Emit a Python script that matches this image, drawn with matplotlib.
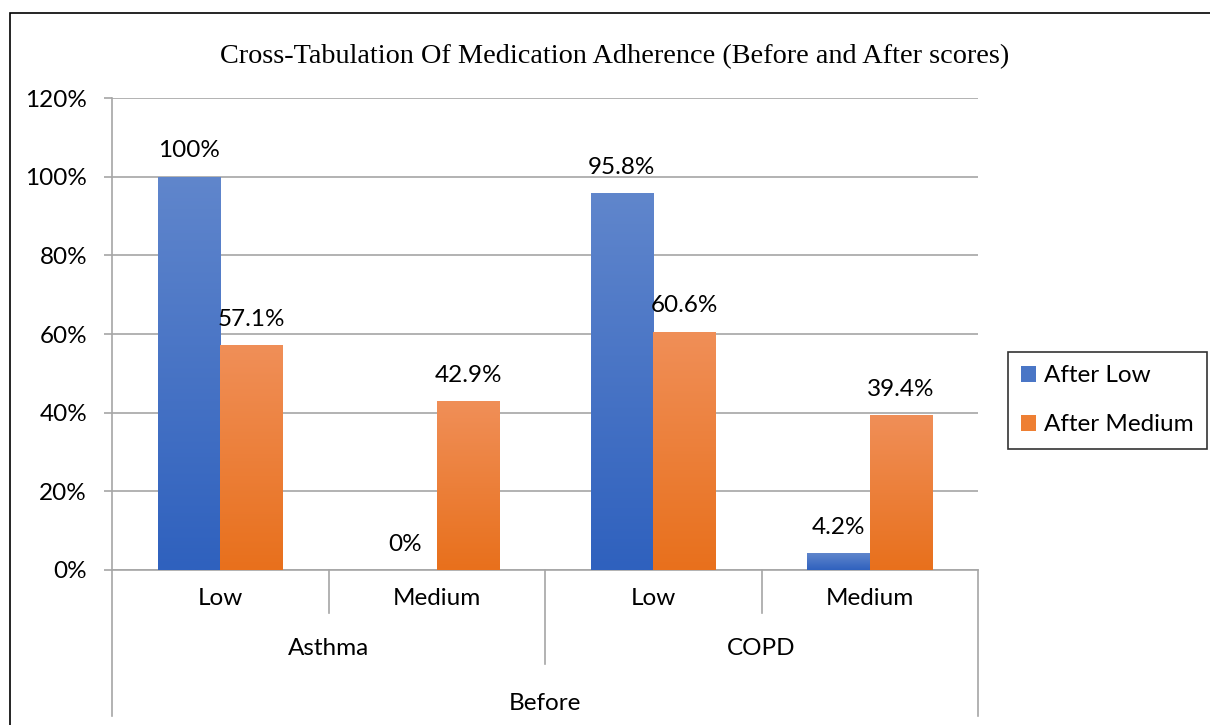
import numpy as np
import matplotlib.pyplot as plt
from matplotlib.colors import LinearSegmentedColormap
from matplotlib.patches import Rectangle, Patch
from matplotlib.transforms import blended_transform_factory

# data
diseases = ["Asthma", "COPD"]
before_levels = ["Low", "Medium", "Low", "Medium"]
after_low = [1.00, 0.0, 0.958, 0.042]
after_medium = [0.571, 0.429, 0.606, 0.394]
low_labels = ["100%", "0%", "95.8%", "4.2%"]
medium_labels = ["57.1%", "42.9%", "60.6%", "39.4%"]
y_ticks = [0, 0.2, 0.4, 0.6, 0.8, 1.0, 1.2]

label_font = "Lato"
fs = 17.5
blue_grad = LinearSegmentedColormap.from_list("b", ["#2F61BE", "#6086CC"])
orange_grad = LinearSegmentedColormap.from_list("o", ["#E8701C", "#F08F58"])
grid_gray = "#A6A6A6"

fig = plt.figure(figsize=(12.1, 7.25), dpi=100)
ax = fig.add_axes([0.0926, 0.2138, 0.7157, 0.651])

x = np.arange(len(before_levels))
w = 0.29
bars_low = ax.bar(x - w / 2, after_low, w, color="#4472C4", zorder=3)
bars_med = ax.bar(x + w / 2, after_medium, w, color="#ED7D31", zorder=3)

# vertical gradient fill clipped to each bar
grad = np.linspace(0, 1, 256).reshape(-1, 1)
for bars, cmap in [(bars_low, blue_grad), (bars_med, orange_grad)]:
    for b in bars:
        if b.get_height() <= 0:
            continue
        x0, y0 = b.get_x(), b.get_y()
        im = ax.imshow(grad, cmap=cmap, aspect="auto", origin="lower",
                       extent=[x0, x0 + b.get_width(), y0, y0 + b.get_height()],
                       zorder=4)
        im.set_clip_path(b)

ax.set_xlim(-0.5, 3.5)
ax.set_ylim(0, 1.2)
ax.set_yticks(y_ticks)
ax.set_yticklabels([f"{int(round(t * 100))}%" for t in y_ticks],
                   fontsize=fs, family=label_font)
ax.yaxis.grid(True, color=grid_gray, linewidth=1.2, zorder=0)
ax.tick_params(axis="y", length=6, color=grid_gray, width=1.2, pad=12)
ax.set_xticks([])
for s in ["top", "right"]:
    ax.spines[s].set_visible(False)
ax.spines["left"].set_color(grid_gray)
ax.spines["bottom"].set_color(grid_gray)
ax.spines["left"].set_linewidth(1.2)
ax.spines["bottom"].set_linewidth(1.2)

# data labels
for bars, labels in [(bars_low, low_labels), (bars_med, medium_labels)]:
    for b, lab in zip(bars, labels):
        ax.annotate(lab, (b.get_x() + b.get_width() / 2, b.get_height()),
                    xytext=(0, 11), textcoords="offset points", ha="center",
                    va="bottom", fontsize=fs, family=label_font, zorder=5)

# multi-level category axis
tr = blended_transform_factory(ax.transData, ax.transAxes)
line_kw = dict(color=grid_gray, linewidth=1.2, transform=tr, clip_on=False)
for xi, lab in zip(x, before_levels):
    ax.text(xi, -0.06, lab, transform=tr, ha="center", va="center",
            fontsize=fs, family=label_font)
for xb in [0.5, 2.5]:
    ax.plot([xb, xb], [0, -0.092], **line_kw)
ax.plot([1.5, 1.5], [0, -0.20], **line_kw)
ax.plot([-0.5, -0.5], [0, -0.31], **line_kw)
ax.plot([3.5, 3.5], [0, -0.31], **line_kw)
for i, d in enumerate(diseases):
    ax.text(0.5 + 2 * i, -0.166, d, transform=tr, ha="center", va="center",
            fontsize=fs, family=label_font)
ax.text(1.5, -0.283, "Before", transform=tr, ha="center", va="center",
        fontsize=fs, family=label_font)

fig.text(0.508, 0.922, "Cross-Tabulation Of Medication Adherence (Before and After scores)",
         ha="center", va="center", fontsize=20.3, family="Liberation Serif")

handles = [Patch(facecolor="#4A76C6", label="After Low"),
           Patch(facecolor="#EE7F33", label="After Medium")]
leg = fig.legend(handles=handles, loc="upper left",
                 bbox_to_anchor=(1008 / 1210, 1 - 352 / 725),
                 frameon=True, fancybox=False, edgecolor="black",
                 prop={"family": label_font, "size": fs}, handlelength=0.62,
                 handleheight=0.62, handletextpad=0.3, borderpad=0.55,
                 labelspacing=1.15, borderaxespad=0)
leg.get_frame().set_linewidth(1.2)

# outer chart border
fig.add_artist(Rectangle((10 / 1210, -0.1), 1.2, 1 - 13 / 725 + 0.1,
                         transform=fig.transFigure, fill=False,
                         edgecolor="black", linewidth=1.2))

fig.savefig("out.png", dpi=100)
